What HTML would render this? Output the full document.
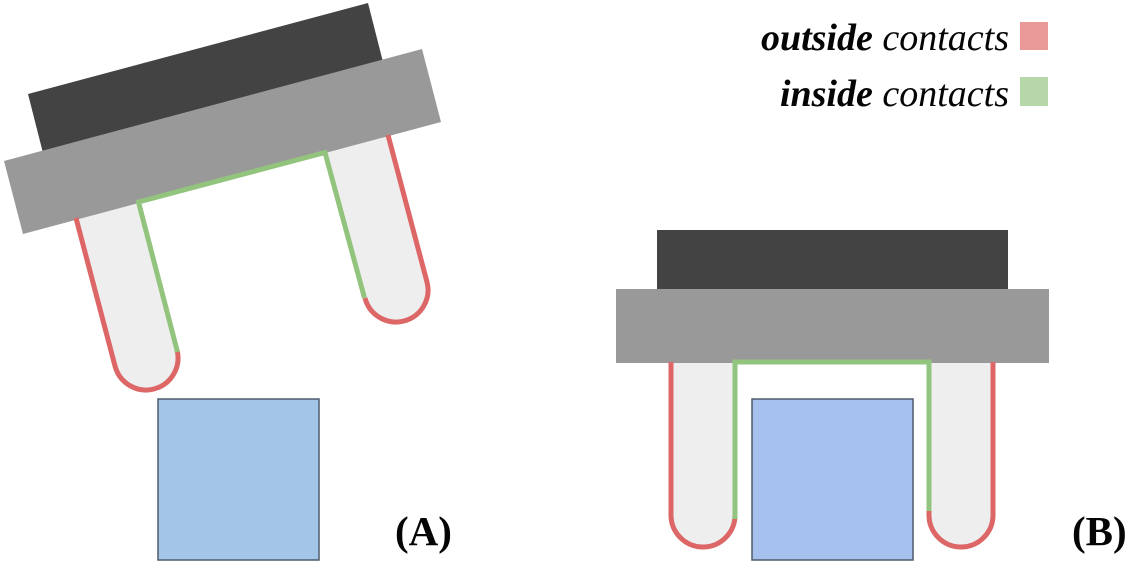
<!DOCTYPE html>
<html><head><meta charset="utf-8"><style>
html,body{margin:0;padding:0;background:#fff;width:1129px;height:565px;overflow:hidden}
svg{display:block}
text{font-family:"Liberation Serif",serif;fill:#050505}
</style></head><body>
<svg width="1129" height="565" viewBox="0 0 1129 565" xmlns="http://www.w3.org/2000/svg">
<rect width="1129" height="565" fill="#fff"/>
<!-- A -->
<polygon points="28,94 368,3 383,62 43,153" fill="#434343"/>
<path d="M76,218 L115,366 A32,32 0 0 0 177,350 L138,202 Z" fill="#eeeeee"/>
<path d="M325,152 L365,298 A32,32 0 0 0 427,282 L388,135 Z" fill="#eeeeee"/>
<polygon points="4,161 422,49 441,122 23,234" fill="#999999"/>
<path d="M76,218 L115,366 A32,32 0 0 0 177,350" fill="none" stroke="#dd6666" stroke-width="5"/>
<path d="M388,135 L427,282 A32,32 0 0 1 365,298" fill="none" stroke="#dd6666" stroke-width="5"/>
<path d="M177.500,352 L138.500,202 L325,152.500 L364.500,298" fill="none" stroke="#93c47d" stroke-width="5"/>
<rect x="158" y="399" width="161" height="161" fill="#a3c5e8" stroke="#4f5b6c" stroke-width="1.5"/>
<!-- B -->
<rect x="657" y="230" width="351" height="60" fill="#434343"/>
<rect x="671" y="360" width="64" height="155" fill="#eeeeee"/><path d="M671,515 A32,32 0 0 0 735,515 Z" fill="#eeeeee"/>
<rect x="929" y="360" width="64" height="155" fill="#eeeeee"/><path d="M929,515 A32,32 0 0 0 993,515 Z" fill="#eeeeee"/>
<rect x="616" y="289" width="433" height="74" fill="#999999"/>
<path d="M671,362 L671,515 A32,32 0 0 0 735,515 L735,519" fill="none" stroke="#dd6666" stroke-width="5"/>
<path d="M993,362 L993,515 A32,32 0 0 1 929,515 L929,511" fill="none" stroke="#dd6666" stroke-width="5"/>
<path d="M735,519 L735,362 L929,362 L929,511" fill="none" stroke="#93c47d" stroke-width="5"/>
<rect x="752" y="399" width="161" height="161" fill="#a7c1ee" stroke="#4f5b6c" stroke-width="1.5"/>
<!-- legend -->
<rect x="1020" y="22" width="28" height="28" fill="#ea9999"/>
<rect x="1020" y="77" width="28" height="29" fill="#b6d7a8"/>
<text x="1009" y="50" text-anchor="end" font-size="38" font-style="italic"><tspan font-weight="bold">outside</tspan> contacts</text>
<text x="1009" y="106" text-anchor="end" font-size="38" font-style="italic"><tspan font-weight="bold">inside</tspan> contacts</text>
<text x="395" y="545" font-size="41" font-weight="bold">(A)</text>
<text x="1072" y="545" font-size="41" font-weight="bold">(B)</text>
</svg>
</body></html>
